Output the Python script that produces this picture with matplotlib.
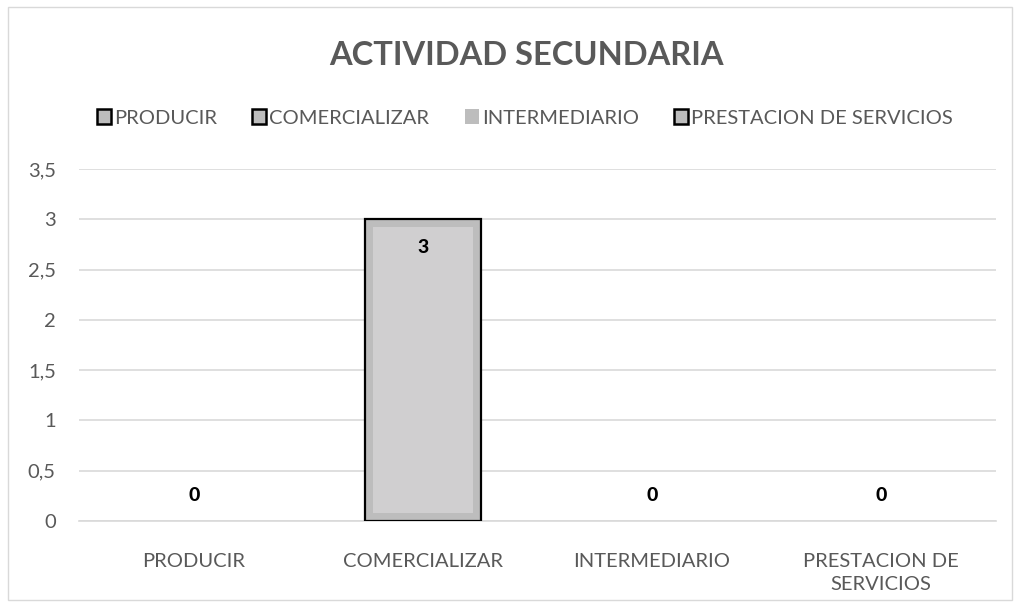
import matplotlib.pyplot as plt
from matplotlib.patches import Patch, Rectangle

categorias = ['PRODUCIR', 'COMERCIALIZAR', 'INTERMEDIARIO', 'PRESTACION DE\nSERVICIOS']
leyenda = ['PRODUCIR', 'COMERCIALIZAR', 'INTERMEDIARIO', 'PRESTACION DE SERVICIOS']
valores = [0, 3, 0, 0]
yticks = [0, 0.5, 1, 1.5, 2, 2.5, 3, 3.5]
ytick_labels = ['0', '0,5', '1', '1,5', '2', '2,5', '3', '3,5']

plt.rcParams['font.family'] = ['Lato', 'DejaVu Sans']
gris_txt = '#595959'

fig = plt.figure(figsize=(10.19, 6.08), dpi=100)
ax = fig.add_axes([0.078, 0.143, 0.899, 0.579])

x = range(len(categorias))
bordes = ['black' if v > 0 else 'none' for v in valores]
bars = ax.bar(x, valores, width=0.51, color='#d0cfd0', edgecolor='#bdbdbd', linewidth=11.5, zorder=2)
for b, v in zip(bars, valores):
    b.set_clip_path(b)
    if v == 0:
        b.set_visible(False)
ax.bar(x, valores, width=0.51, fill=False, edgecolor=bordes, linewidth=1.6, zorder=3)

for i, v in enumerate(valores):
    if v > 0:
        ax.annotate(str(v), (i, v), xytext=(0, -14), textcoords='offset points',
                    ha='center', va='top', fontsize=14, fontweight='black', color='black')
    else:
        ax.annotate(str(v), (i, v), xytext=(0, 12), textcoords='offset points',
                    ha='center', va='bottom', fontsize=14, fontweight='black', color='black')

ax.set_xlim(-0.5, 3.5)
ax.set_ylim(0, 3.5)
ax.set_yticks(yticks)
ax.set_yticklabels(ytick_labels)
ax.set_xticks(list(x))
ax.set_xticklabels(categorias, linespacing=1.45)
ax.tick_params(axis='both', length=0, labelsize=14.5, colors=gris_txt)
ax.tick_params(axis='x', pad=23)
ax.tick_params(axis='y', pad=17)
ax.grid(axis='y', color='#d9d9d9', linewidth=1.2, zorder=0)
ax.set_axisbelow(True)
for s in ['top', 'right', 'left']:
    ax.spines[s].set_visible(False)
ax.spines['bottom'].set_color('#d9d9d9')
ax.spines['bottom'].set_linewidth(1.2)

fig.suptitle('ACTIVIDAD SECUNDARIA', x=0.517, y=0.933, fontsize=23.5, fontweight='bold', color=gris_txt)

handles = []
for nombre in leyenda:
    if nombre == 'INTERMEDIARIO':
        handles.append(Patch(facecolor='#bdbdbd', edgecolor='none', label=nombre))
    else:
        handles.append(Patch(facecolor='#bdbdbd', edgecolor='black', linewidth=1.8, label=nombre))
fig.legend(handles=handles, loc='center', bbox_to_anchor=(0.515, 0.806), ncol=4, frameon=False,
           fontsize=14.5, labelcolor=gris_txt, handlelength=0.7, handleheight=0.7,
           handletextpad=0.15, columnspacing=1.75)

fig.patches.append(Rectangle((0.008, 0.013), 0.985, 0.975, transform=fig.transFigure,
                             fill=False, edgecolor='#d9d9d9', linewidth=1))

fig.savefig('out.png', dpi=100)
